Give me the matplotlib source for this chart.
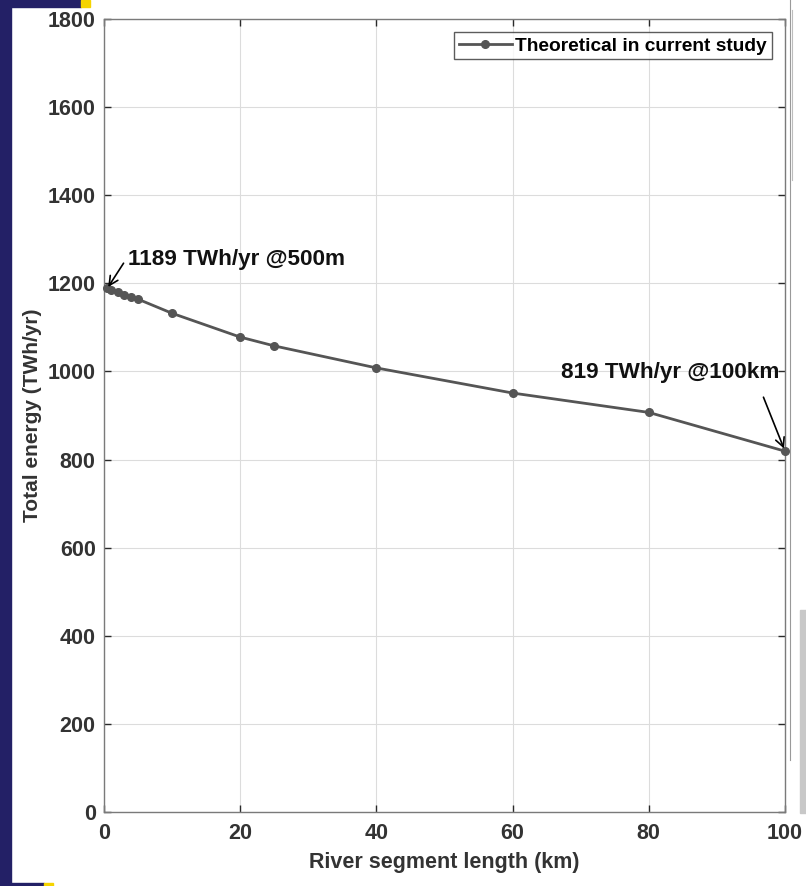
import matplotlib
matplotlib.use("Agg")
import matplotlib.pyplot as plt
from matplotlib.patches import Rectangle
from matplotlib.lines import Line2D

seg_len_km = [0.5, 1, 2, 3, 4, 5, 10, 20, 25, 40, 60, 80, 100]
energy_twh = [1189, 1186, 1181, 1174, 1169, 1164, 1132, 1078, 1058, 1008, 951, 907, 819]
xticks = [0, 20, 40, 60, 80, 100]
yticks = list(range(0, 1801, 200))

plt.rcParams['font.family'] = ['Liberation Sans', 'DejaVu Sans']

W, H = 806, 886
fig = plt.figure(figsize=(W/100, H/100), dpi=100)
fig.patch.set_facecolor('white')

def frect(x0, y0, w, h, color):
    # pixel coords measured from top-left
    fig.patches.append(Rectangle((x0/W, 1-(y0+h)/H), w/W, h/H, transform=fig.transFigure,
                                 color=color, zorder=0))

# decorative frame bits from the screenshot
frect(0, 0, 11, H, '#232066')
frect(0, 0, 81, 7, '#232066')
frect(81, 0, 9, 7, '#f5d400')
frect(0, 883, 44, 3, '#232066')
frect(44, 883, 9, 3, '#f5d400')
frect(800, 610, 6, 203, '#c8c8c8')
fig.lines.append(Line2D([790/W, 790/W], [1-760/H, 1.0], transform=fig.transFigure,
                        color='#9a9a9a', lw=0.8))
fig.lines.append(Line2D([792/W, 792/W], [1-180/H, 1-10/H], transform=fig.transFigure,
                        color='#bdbdbd', lw=0.8))

ax = fig.add_axes([104/W, 1-812/H, 681/W, 793/H])
ax.plot(seg_len_km, energy_twh, '-o', color='#555555', lw=2.0, ms=5.5,
        label='Theoretical in current study', zorder=3, clip_on=False)

ax.set_xlim(0, 100)
ax.set_ylim(0, 1800)
ax.set_xticks(xticks)
ax.set_yticks(yticks)
ax.grid(True, color='#dcdcdc', lw=0.8)
ax.set_axisbelow(True)
for s in ax.spines.values():
    s.set_color('#7a7a7a')
    s.set_linewidth(1.0)
ax.tick_params(direction='in', length=5, width=1, colors='#2a2a2a', labelsize=15.5,
               top=True, right=True)
ax.tick_params(axis='x', pad=8)
ax.tick_params(axis='y', pad=6)
for lbl in ax.get_xticklabels() + ax.get_yticklabels():
    lbl.set_fontweight('bold')
    lbl.set_color('#333333')

ax.set_xlabel('River segment length (km)', fontsize=15.5, fontweight='bold', color='#333333', labelpad=6)
ax.set_ylabel('Total energy (TWh/yr)', fontsize=15, fontweight='bold', color='#333333', labelpad=4)

leg = ax.legend(loc='upper right', frameon=True, fancybox=False,
                edgecolor='#333333', handlelength=2.8, borderpad=0.25, borderaxespad=0.7,
                handletextpad=0.15, prop={'weight': 'bold', 'size': 13.8})
leg.get_frame().set_linewidth(1.0)

ax.annotate('1189 TWh/yr @500m', xy=(seg_len_km[0], energy_twh[0]), xytext=(3.5, 1255),
            fontsize=16.2, fontweight='bold', color='#111111', va='center', ha='left',
            arrowprops=dict(arrowstyle='->', color='black', lw=1.2, shrinkA=2, shrinkB=1,
                            relpos=(0.0, 0.62)))
ax.annotate('819 TWh/yr @100km', xy=(seg_len_km[-1], energy_twh[-1]), xytext=(99.2, 998),
            fontsize=16.2, fontweight='bold', color='#111111', va='center', ha='right',
            arrowprops=dict(arrowstyle='->', color='black', lw=1.2, shrinkA=9, shrinkB=2,
                            relpos=(0.9, 0.0)))

fig.savefig('out.png', dpi=100)
